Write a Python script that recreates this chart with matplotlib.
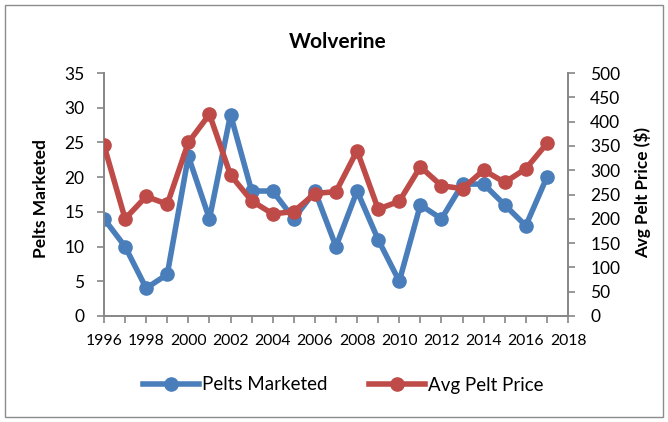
import matplotlib
matplotlib.use("Agg")
import matplotlib.pyplot as plt
from matplotlib.patches import Rectangle

years = list(range(1996, 2018))
pelts = [14, 10, 4, 6, 23, 14, 29, 18, 18, 14, 18, 10, 18, 11, 5, 16, 14, 19, 19, 16, 13, 20]
price = [351, 200, 246, 230, 357, 415, 290, 237, 210, 215, 252, 256, 340, 220, 236, 307, 268, 262, 300, 275, 303, 355]

left_ticks = [0, 5, 10, 15, 20, 25, 30, 35]
right_ticks = [0, 50, 100, 150, 200, 250, 300, 350, 400, 450, 500]
x_labels = list(range(1996, 2019, 2))

plt.rcParams['font.family'] = ['Lato', 'DejaVu Sans']
BLUE = '#4A7EBB'
RED = '#BE4B48'
GRAY = '#868686'

fig = plt.figure(figsize=(6.68, 4.22), dpi=100)
fig.patches.append(Rectangle((5/668, 5/422), 658/668, 412/422, transform=fig.transFigure,
                             fill=False, edgecolor='#8c8c8c', linewidth=1.0))
ax = fig.add_axes([104/668, 1-316/422, (568-104)/668, (316-73)/422])
ax2 = ax.twinx()

l1, = ax.plot(years, pelts, color=BLUE, lw=4, marker='o', ms=9.5, label='Pelts Marketed', zorder=3)
l2, = ax2.plot(years, price, color=RED, lw=4, marker='o', ms=9.5, label='Avg Pelt Price', zorder=3)

ax.set_xlim(1996, 2018)
ax.set_ylim(0, 35)
ax2.set_ylim(0, 500)
ax.set_xticks(list(range(1996, 2019)))
ax.set_xticklabels([str(y) if y in x_labels else '' for y in range(1996, 2019)])
ax.set_yticks(left_ticks)
ax2.set_yticks(right_ticks)

for a in (ax, ax2):
    for s in a.spines.values():
        s.set_color(GRAY)
        s.set_linewidth(1.2)
    a.spines['top'].set_visible(False)
    a.tick_params(colors=GRAY, labelcolor='black', labelsize=12.5, length=5, width=1.2, direction='out')
ax.tick_params(axis='y', pad=9)
ax.tick_params(axis='x', pad=8, labelsize=11.3)
ax2.tick_params(axis='y', pad=11)

ax.set_ylabel('Pelts Marketed', fontsize=12.5, fontweight='bold')
ax2.set_ylabel('Avg Pelt Price ($)', fontsize=12.3, fontweight='bold')
ax.yaxis.set_label_coords((41-104)/464, (316-199)/243)
ax2.yaxis.set_label_coords((643-104)/464, (316-193)/243)
ax.yaxis.label.set_va('center')
ax2.yaxis.label.set_va('center')

fig.text(337.5/668, 1-47.7/422, 'Wolverine', ha='center', va='baseline', fontsize=15, fontweight='bold')

fig.legend([l1, l2], ['Pelts Marketed', 'Avg Pelt Price'], loc='center',
           bbox_to_anchor=(343/668, 1-385/422), ncol=2, frameon=False, fontsize=13.5,
           handlelength=3.0, columnspacing=2.2, handletextpad=0.15, borderpad=0, borderaxespad=0)

fig.savefig('out.png', dpi=100)
